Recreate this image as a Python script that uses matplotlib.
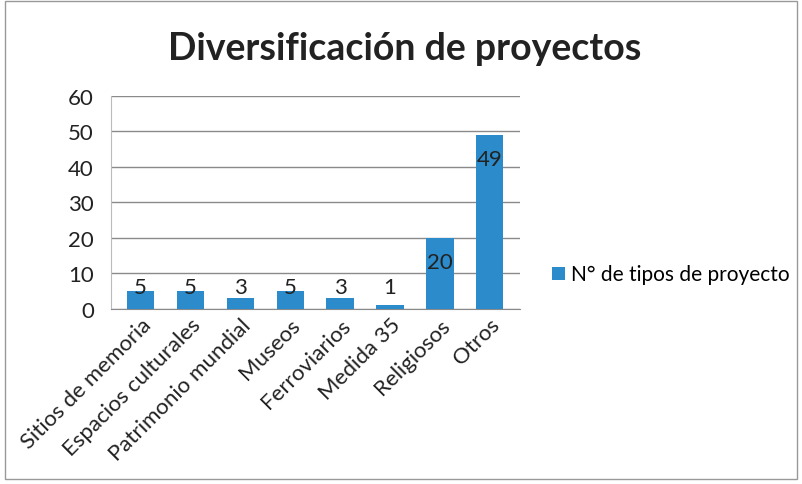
import matplotlib
matplotlib.use("Agg")
import matplotlib.pyplot as plt
from matplotlib.patches import Rectangle

categories = ["Sitios de memoria", "Espacios culturales", "Patrimonio mundial",
              "Museos", "Ferroviarios", "Medida 35", "Religiosos", "Otros"]
values = [5, 5, 3, 5, 3, 1, 20, 49]
series_name = "N° de tipos de proyecto"
yticks = [0, 10, 20, 30, 40, 50, 60]

plt.rcParams['font.family'] = ['Lato', 'DejaVu Sans']
fig = plt.figure(figsize=(8.02, 4.85), dpi=100)
ax = fig.add_axes([0.138, 0.361, 0.51, 0.439])

color = "#2C8BCA"
x = list(range(len(categories)))
bars = ax.bar(x, values, width=0.55, color=color, label=series_name, zorder=3)
ax.set_xlim(-0.6, len(categories) - 0.4)
ax.set_ylim(0, 60)
ax.set_yticks(yticks)
ax.tick_params(axis='y', length=0, labelsize=16, pad=12, colors="#222222")
ax.tick_params(axis='x', length=0, labelsize=16, pad=4, colors="#222222")
ax.set_xticks(x)
ax.set_xticklabels(categories, rotation=45, ha='right', rotation_mode='anchor')
ax.yaxis.grid(True, color="#8a8a8a", linewidth=1.0, zorder=0)
for s in ['top', 'right']:
    ax.spines[s].set_visible(False)
ax.spines['left'].set_color("#bbbbbb")
ax.spines['bottom'].set_color("#8a8a8a")

for xi, v in zip(x, values):
    ypos = max(v - 6.8, 6.2)
    ax.text(xi, ypos, str(v), ha='center', va='center', fontsize=16, color="#222222", zorder=4)

fig.suptitle("Diversificación de proyectos", x=0.505, y=0.935, fontsize=27, fontweight='bold', color="#222222")

leg = fig.legend(handles=[bars], labels=[series_name], loc='center left',
                 bbox_to_anchor=(0.665, 0.432), frameon=False, fontsize=15,
                 handlelength=0.6, handleheight=0.6, handletextpad=0.3)

fig.patches.append(Rectangle((0.006, 0.01), 0.988, 0.985, transform=fig.transFigure,
                             fill=False, edgecolor="#999999", linewidth=1.0))

fig.savefig("out.png", dpi=100)
